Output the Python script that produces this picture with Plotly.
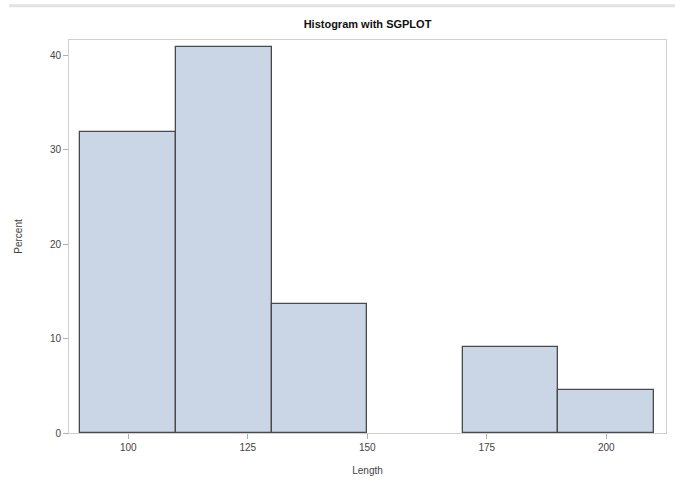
import plotly.graph_objects as go

bin_left = [90, 110, 130, 150, 170, 190]
bin_width = 20
percent = [31.82, 40.91, 13.64, 0.0, 9.09, 4.55]

x_ticks = [100, 125, 150, 175, 200]
y_ticks = [0, 10, 20, 30, 40]

centers = [b + bin_width / 2 for b in bin_left]
# empty bins get no outline, as in the SAS output
edge_widths = [1.3 if p > 0 else 0 for p in percent]

fig = go.Figure(
    data=go.Bar(
        x=centers,
        y=percent,
        width=bin_width,
        marker=dict(color="#cad5e5", line=dict(color="#4a4a4a", width=edge_widths)),
        showlegend=False,
    )
)

axis_common = dict(
    showgrid=False,
    zeroline=False,
    showline=True,
    linecolor="#d0d0d0",
    linewidth=1,
    mirror=True,
    ticks="outside",
    ticklen=5,
    tickcolor="#b0b0b0",
    tickfont=dict(size=10, color="#444444"),
    automargin=False,
)

fig.update_xaxes(
    range=[87.6, 212.5],
    tickvals=x_ticks,
    title=dict(text="Length", font=dict(size=10, color="#444444"), standoff=14),
    **axis_common,
)
fig.update_yaxes(
    range=[0, 41.6],
    tickvals=y_ticks,
    title=dict(text="Percent", font=dict(size=10, color="#444444"), standoff=25),
    **axis_common,
)

# faint band along the top edge of the page
fig.add_shape(
    type="line", xref="paper", yref="paper",
    x0=-0.1, x1=1.02, y0=1.087, y1=1.087,
    line=dict(color="#e2e2e2", width=3),
)

fig.update_layout(
    width=675,
    height=486,
    title=dict(
        text="<b>Histogram with SGPLOT</b>",
        x=0.5,
        xanchor="center",
        y=0.95,
        yanchor="middle",
        xref="paper",
        font=dict(size=11, color="#111111"),
    ),
    font=dict(family="Liberation Sans, Arial, sans-serif"),
    plot_bgcolor="white",
    paper_bgcolor="white",
    margin=dict(l=69, r=9, t=40, b=53),
    bargap=0,
)

fig.write_html(
    "out.html",
    config={"displayModeBar": False},
    post_script="document.body.style.margin='0';",
)
